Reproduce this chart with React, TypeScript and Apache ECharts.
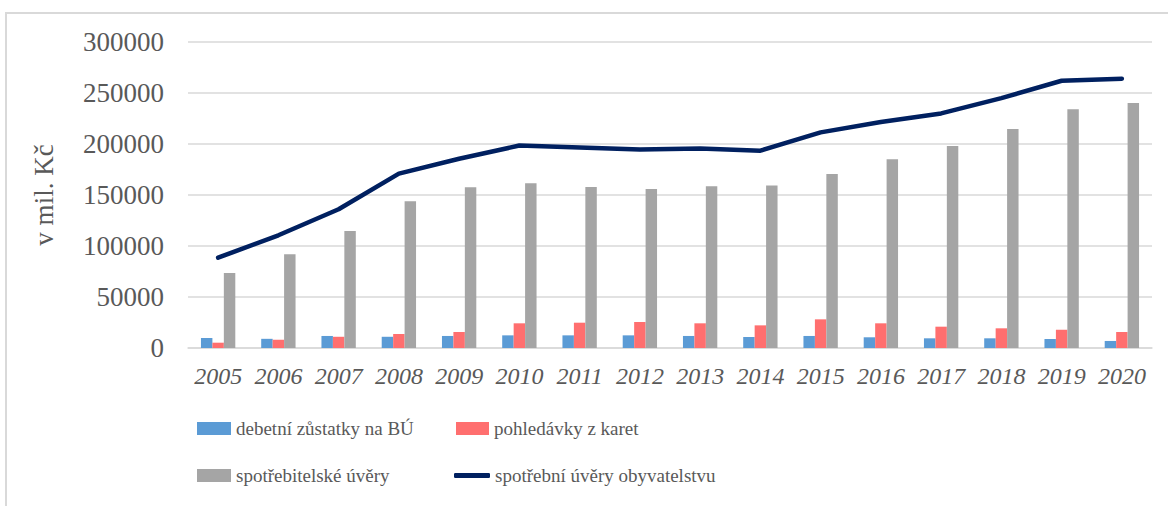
import React, { useEffect, useRef } from "react";
import * as echarts from "echarts";

const years = ["2005","2006","2007","2008","2009","2010","2011","2012","2013","2014","2015","2016","2017","2018","2019","2020"];
const debetni = [9800, 9000, 11800, 11000, 11800, 12400, 12400, 12400, 11800, 10800, 11800, 10500, 9500, 9500, 8800, 6900];
const pohledavky = [5200, 8100, 11000, 13700, 15700, 24200, 24800, 25500, 24200, 22200, 28100, 24200, 20900, 19300, 17900, 15700];
const spotrebitelske = [73500, 91800, 114700, 143800, 157500, 161400, 157800, 155900, 158500, 159400, 170600, 185000, 198000, 214700, 234000, 240200];
const spotrebni = [88500, 110500, 136000, 171000, 185500, 198500, 196500, 194700, 195500, 193500, 211400, 221500, 230000, 245000, 262000, 264000];

const names = ["debetní zůstatky na BÚ", "pohledávky z karet", "spotřebitelské úvěry", "spotřební úvěry obyvatelstvu"];
const FONT = "Liberation Serif";
const TXT = "#595959";

export default function App() {
  const ref = useRef<HTMLDivElement>(null);
  useEffect(() => {
    const chart = echarts.init(ref.current!, null, { renderer: "svg" });
    const mkLegend = (name: string, left: number, top: number, w: number, h: number, icon: string) => ({
      orient: "horizontal",
      padding: 0,
      itemGap: 0,
      selectedMode: false,
      data: [name],
      formatter: "{s|{name}}",
      textStyle: {
        fontFamily: FONT, fontSize: 19, color: TXT,
        rich: { s: { fontFamily: FONT, fontSize: 19, color: TXT, lineHeight: 22 } },
      },
      left, top, itemWidth: w, itemHeight: h, icon,
    });
    chart.setOption({
      animation: false,
      backgroundColor: "#fff",
      textStyle: { fontFamily: FONT },
      graphic: [
        { type: "rect", shape: { x: 6, y: 13, width: 1200, height: 600 }, style: { fill: "none", stroke: "#d9d9d9", lineWidth: 2 }, silent: true },
      ],
      grid: { left: 188, right: 16, top: 42, bottom: 158, containLabel: false },
      legend: [
        mkLegend(names[0], 197, 419, 34, 13, "rect"),
        mkLegend(names[1], 456, 419, 33, 13, "rect"),
        mkLegend(names[2], 197, 466, 34, 13, "rect"),
        mkLegend(names[3], 454, 466, 36, 5, "roundRect"),
      ],
      xAxis: {
        type: "category",
        data: years,
        axisTick: { show: false },
        axisLine: { show: true, lineStyle: { color: "#d9d9d9", width: 1.5 } },
        axisLabel: { interval: 0, fontFamily: FONT, fontSize: 24, fontStyle: "italic", color: TXT, margin: 16 },
      },
      yAxis: {
        type: "value",
        min: 0,
        max: 300000,
        interval: 50000,
        name: "v mil. Kč",
        nameLocation: "middle",
        nameRotate: 90,
        nameGap: 131,
        nameTextStyle: { fontFamily: FONT, fontSize: 27, color: TXT },
        axisLine: { show: false },
        axisTick: { show: false },
        splitLine: { lineStyle: { color: "#d9d9d9", width: 1.5 } },
        axisLabel: { fontFamily: FONT, fontSize: 27, color: TXT, margin: 24, formatter: (v: number) => String(v) },
      },
      series: [
        { name: names[0], type: "bar", data: debetni, barGap: "0%", barCategoryGap: "43%", itemStyle: { color: "#5B9BD5" } },
        { name: names[1], type: "bar", data: pohledavky, barGap: "0%", barCategoryGap: "43%", itemStyle: { color: "#FF6F6F" } },
        { name: names[2], type: "bar", data: spotrebitelske, barGap: "0%", barCategoryGap: "43%", itemStyle: { color: "#A5A5A5" } },
        {
          name: names[3], type: "line", data: spotrebni, symbol: "none", showSymbol: false, z: 5,
          lineStyle: { color: "#002060", width: 4.5, cap: "round", join: "round" },
          itemStyle: { color: "#002060" },
        },
      ],
    });
    return () => chart.dispose();
  }, []);
  return <div ref={ref} style={{ position: "absolute", left: 0, top: 0, width: 1168, height: 506 }} />;
}
